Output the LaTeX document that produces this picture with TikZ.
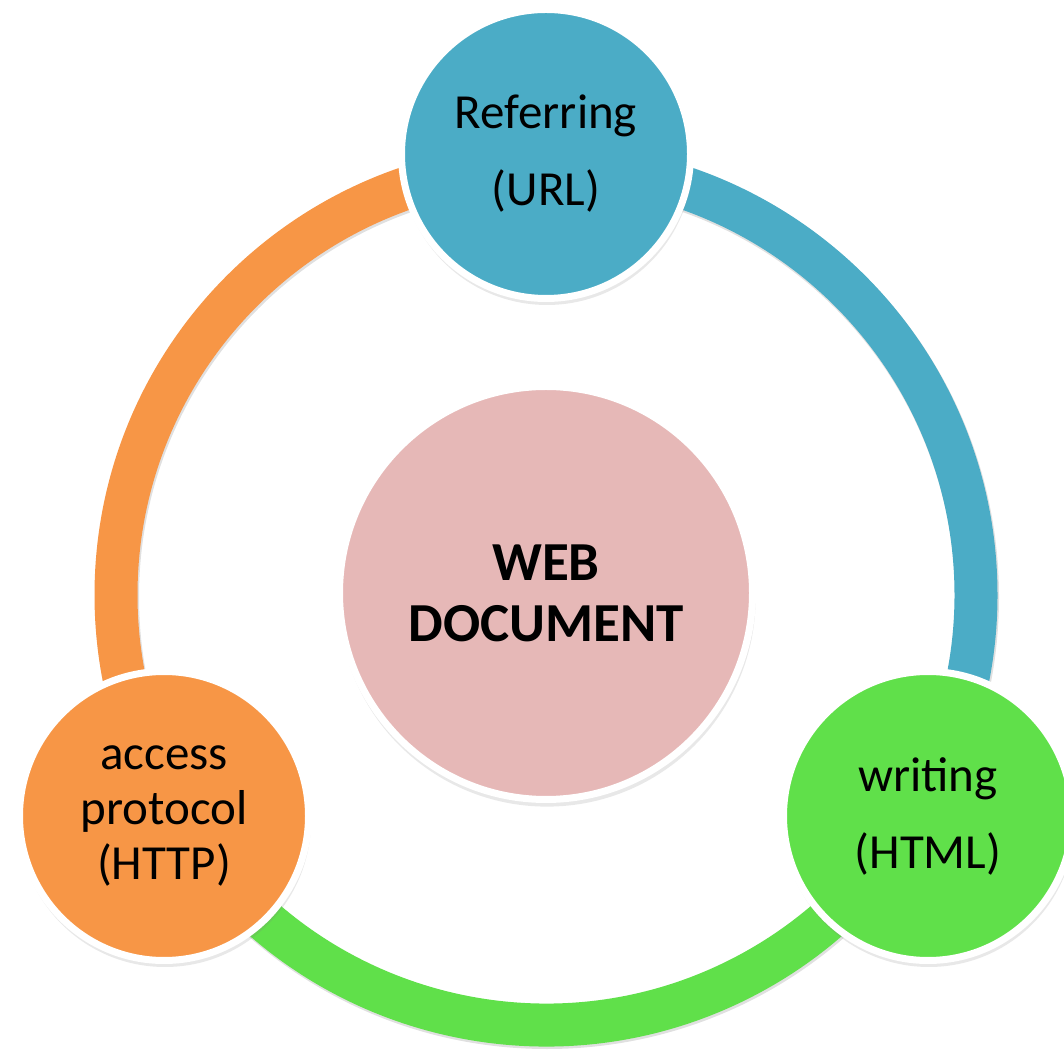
\documentclass[tikz,border=0pt]{standalone}
\usepackage{fontspec}
\setmainfont{Carlito}
\usetikzlibrary{shadows}
\definecolor{ringblue}{HTML}{4BACC6}
\definecolor{ringorange}{HTML}{F79646}
\definecolor{ringgreen}{HTML}{60E04A}
\definecolor{corepink}{HTML}{E6B8B7}
\begin{document}
\begin{tikzpicture}[x=1pt,y=1pt,
  ring/.style={line width=43pt},
  ringshadow/.style={line width=44pt, black, opacity=0.12},
  bshadow/.style={drop shadow={shadow xshift=1pt, shadow yshift=-5pt, shadow scale=1.01, opacity=0.18}},
  bubble/.style={circle, draw=white, line width=7pt, minimum size=289pt, inner sep=0pt,
    outer sep=0pt, align=center, text=black, bshadow},
  core/.style={circle, draw=white, line width=7pt, minimum size=413pt, inner sep=0pt,
    outer sep=0pt, align=center, text=black, fill=corepink, bshadow,
    font=\fontsize{55}{61}\selectfont\bfseries}]
\useasboundingbox[fill=white] (0,0) rectangle (1064,1049);
\coordinate (c) at (546,454);
\coordinate (cs) at (547,452);
% ring shadow
\draw[ringshadow] (cs) circle[radius=430];
% ring arcs
\draw[ring, ringorange] (c) ++(90:430) arc[start angle=90, end angle=210, radius=430];
\draw[ring, ringblue] (c) ++(90:430) arc[start angle=90, end angle=-30, radius=430];
\draw[ring, ringgreen] (c) ++(210:430) arc[start angle=210, end angle=330, radius=430];
% bubbles
\node[bubble, fill=ringblue, font=\fontsize{49}{77}\selectfont] (url) at (546,895) {Referring\\(URL)};
\node[bubble, fill=ringorange, font=\fontsize{49}{55}\selectfont] (http) at (164,233) {access\\protocol\\(HTTP)};
\node[bubble, fill=ringgreen, font=\fontsize{49}{77}\selectfont] (html) at (928,233) {writing\\(HTML)};
\node[core] (web) at (546,456) {WEB\\DOCUMENT};
\end{tikzpicture}
\end{document}
